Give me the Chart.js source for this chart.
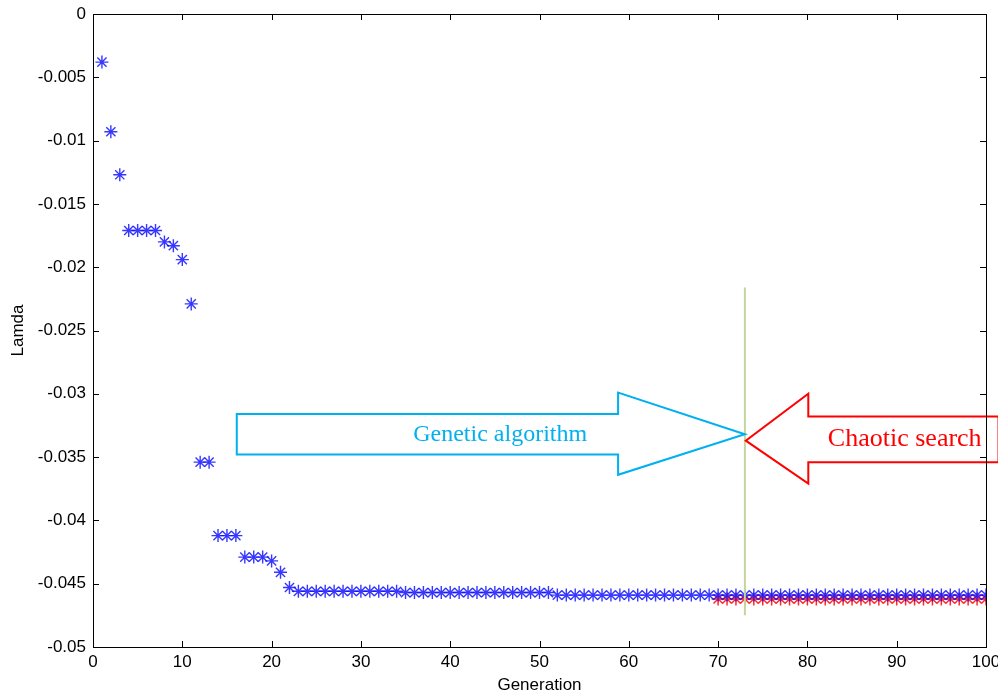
<!DOCTYPE html>
<html>
<head>
<meta charset="utf-8">
<script src="https://cdn.jsdelivr.net/npm/chart.js@4"></script>
<style>
  html, body { margin: 0; padding: 0; background: #fff; }
  #wrap { width: 998px; height: 695px; }
</style>
</head>
<body>
<div id="wrap"><canvas id="lamdaChart" width="998" height="695"></canvas></div>
<script>
// generations 1..100 (GA run), chaotic search runs on generations 70..100
const gaGenerations = [
  1, 2, 3, 4, 5, 6, 7, 8, 9, 10, 11, 12, 13, 14, 15, 16, 17, 18, 19, 20,
  21, 22, 23, 24, 25, 26, 27, 28, 29, 30, 31, 32, 33, 34, 35, 36, 37, 38, 39, 40,
  41, 42, 43, 44, 45, 46, 47, 48, 49, 50, 51, 52, 53, 54, 55, 56, 57, 58, 59, 60,
  61, 62, 63, 64, 65, 66, 67, 68, 69, 70, 71, 72, 73, 74, 75, 76, 77, 78, 79, 80,
  81, 82, 83, 84, 85, 86, 87, 88, 89, 90, 91, 92, 93, 94, 95, 96, 97, 98, 99, 100
];
const gaLamda = [
  -0.0038, -0.0093, -0.0127, -0.0171, -0.0171, -0.0171, -0.0171, -0.0180, -0.0183, -0.0194,
  -0.0229, -0.0354, -0.0354, -0.0412, -0.0412, -0.0412, -0.0429, -0.0429, -0.0429, -0.0432,
  -0.0441, -0.0453, -0.0456, -0.0456, -0.0456, -0.0456, -0.0456, -0.0456, -0.0456, -0.0456,
  -0.0456, -0.0456, -0.0456, -0.0456, -0.0457, -0.0457, -0.0457, -0.0457, -0.0457, -0.0457,
  -0.0457, -0.0457, -0.0457, -0.0457, -0.0457, -0.0457, -0.0457, -0.0457, -0.0457, -0.0457,
  -0.0457, -0.0459, -0.0459, -0.0459, -0.0459, -0.0459, -0.0459, -0.0459, -0.0459, -0.0459,
  -0.0459, -0.0459, -0.0459, -0.0459, -0.0459, -0.0459, -0.0459, -0.0459, -0.0459, -0.0459,
  -0.0459, -0.0459, -0.0459, -0.0459, -0.0459, -0.0459, -0.0459, -0.0459, -0.0459, -0.0459,
  -0.0459, -0.0459, -0.0459, -0.0459, -0.0459, -0.0459, -0.0459, -0.0459, -0.0459, -0.0459,
  -0.0459, -0.0459, -0.0459, -0.0459, -0.0459, -0.0459, -0.0459, -0.0459, -0.0459, -0.0459
];
const csGenerations = [
  70, 71, 72, 73, 74, 75, 76, 77, 78, 79, 80, 81, 82, 83, 84, 85,
  86, 87, 88, 89, 90, 91, 92, 93, 94, 95, 96, 97, 98, 99, 100
];
const csLamda = [
  -0.0462, -0.0462, -0.0462, -0.0462, -0.0462, -0.0462, -0.0462, -0.0462,
  -0.0462, -0.0462, -0.0462, -0.0462, -0.0462, -0.0462, -0.0462, -0.0462,
  -0.0462, -0.0462, -0.0462, -0.0462, -0.0462, -0.0462, -0.0462, -0.0462,
  -0.0462, -0.0462, -0.0462, -0.0462, -0.0462, -0.0462, -0.0462
];
const xTicks = [0, 10, 20, 30, 40, 50, 60, 70, 80, 90, 100];

// 주석(화살표) 위치 - 데이터 좌표로
const switchGen = 73;
const gaArrow = { x0: 16.1, xHead: 58.8, xTip: 73, yTop: -0.0316, yBot: -0.0348, headTop: -0.0299, headBot: -0.0364, yTip: -0.0332 };
const csArrow = { xTip: 73.1, xHead: 80.1, xEnd: 101.4, yTop: -0.0318, yBot: -0.0354, headTop: -0.0300, headBot: -0.0371, yTip: -0.0337 };

const axisFont = { family: 'Liberation Sans, Arial', size: 17 };

function toPoints(xs, ys) {
  return xs.map((x, i) => ({ x: x, y: ys[i] }));
}

// 축 안쪽 눈금 + 박스
const boxTicks = {
  id: 'boxTicks',
  afterDraw(chart) {
    const ctx = chart.ctx;
    const a = chart.chartArea;
    const xs = chart.scales.x, ys = chart.scales.y;
    ctx.save();
    ctx.strokeStyle = '#000';
    ctx.lineWidth = 1;
    ctx.beginPath();
    xs.ticks.forEach(t => {
      const px = Math.round(xs.getPixelForValue(t.value)) + 0.5;
      ctx.moveTo(px, a.bottom); ctx.lineTo(px, a.bottom - 6);
      ctx.moveTo(px, a.top); ctx.lineTo(px, a.top + 6);
    });
    ys.ticks.forEach(t => {
      const py = Math.round(ys.getPixelForValue(t.value)) + 0.5;
      ctx.moveTo(a.left, py); ctx.lineTo(a.left + 6, py);
      ctx.moveTo(a.right, py); ctx.lineTo(a.right - 6, py);
    });
    ctx.stroke();
    ctx.strokeRect(Math.round(a.left) + 0.5, Math.round(a.top) + 0.5, Math.round(a.right - a.left), Math.round(a.bottom - a.top));
    ctx.restore();
  }
};

const arrows = {
  id: 'arrows',
  afterDatasetsDraw(chart) {
    const ctx = chart.ctx;
    const X = v => chart.scales.x.getPixelForValue(v);
    const Y = v => chart.scales.y.getPixelForValue(v);
    ctx.save();

    // green divider
    ctx.strokeStyle = '#c3d69b';
    ctx.lineWidth = 2;
    ctx.beginPath();
    ctx.moveTo(X(switchGen), Y(-0.0216));
    ctx.lineTo(X(switchGen), Y(-0.0475));
    ctx.stroke();

    // GA arrow (right)
    const g = gaArrow;
    ctx.strokeStyle = '#00b0f0';
    ctx.lineWidth = 2;
    ctx.beginPath();
    ctx.moveTo(X(g.x0), Y(g.yTop));
    ctx.lineTo(X(g.xHead), Y(g.yTop));
    ctx.lineTo(X(g.xHead), Y(g.headTop));
    ctx.lineTo(X(g.xTip), Y(g.yTip));
    ctx.lineTo(X(g.xHead), Y(g.headBot));
    ctx.lineTo(X(g.xHead), Y(g.yBot));
    ctx.lineTo(X(g.x0), Y(g.yBot));
    ctx.closePath();
    ctx.stroke();
    ctx.fillStyle = '#00b0f0';
    ctx.font = '24px "Liberation Serif", "Times New Roman", serif';
    ctx.textAlign = 'center';
    ctx.textBaseline = 'middle';
    ctx.fillText('Genetic algorithm', X(45.6), Y((g.yTop + g.yBot) / 2));

    // chaotic search arrow (left)
    const c = csArrow;
    ctx.strokeStyle = '#ff0000';
    ctx.fillStyle = '#fff';
    ctx.beginPath();
    ctx.moveTo(X(c.xEnd), Y(c.yTop));
    ctx.lineTo(X(c.xHead), Y(c.yTop));
    ctx.lineTo(X(c.xHead), Y(c.headTop));
    ctx.lineTo(X(c.xTip), Y(c.yTip));
    ctx.lineTo(X(c.xHead), Y(c.headBot));
    ctx.lineTo(X(c.xHead), Y(c.yBot));
    ctx.lineTo(X(c.xEnd), Y(c.yBot));
    ctx.closePath();
    ctx.fill();
    ctx.stroke();
    ctx.fillStyle = '#ff0000';
    ctx.font = '26px "Liberation Serif", "Times New Roman", serif';
    ctx.fillText('Chaotic search', X(90.9), Y((c.yTop + c.yBot) / 2));
    ctx.restore();
  }
};

const ctx = document.getElementById('lamdaChart');
new Chart(ctx, {
  type: 'scatter',
  data: {
    datasets: [
      {
        label: 'GA',
        data: toPoints(gaGenerations, gaLamda),
        showLine: false,
        pointStyle: 'star',
        pointRadius: 6.5,
        pointBorderWidth: 1.4,
        borderColor: 'rgba(20, 20, 255, 0.85)',
        backgroundColor: 'rgba(20, 20, 255, 0.85)'
      },
      {
        label: 'Chaos',
        data: toPoints(csGenerations, csLamda),
        showLine: false,
        pointStyle: 'star',
        pointRadius: 6.5,
        pointBorderWidth: 1.5,
        borderColor: 'rgba(255, 20, 20, 0.9)',
        backgroundColor: 'rgba(255, 20, 20, 0.9)'
      }
    ]
  },
  options: {
    responsive: false,
    animation: false,
    layout: { padding: { top: 14, right: 12, left: 0, bottom: 0 } },
    plugins: {
      legend: { display: false },
      tooltip: { enabled: false }
    },
    scales: {
      x: {
        type: 'linear',
        min: 0,
        max: 100,
        afterBuildTicks: scale => { scale.ticks = xTicks.map(v => ({ value: v })); },
        afterFit: scale => { scale.height = 48; scale.paddingRight = 0; scale.paddingLeft = 0; },
        grid: { display: false, drawTicks: false },
        border: { display: false },
        ticks: { color: '#000', font: axisFont, padding: 5, maxRotation: 0 },
        title: { display: true, text: 'Generation', color: '#000', font: { family: axisFont.family, size: 17, lineHeight: 1.1 }, padding: { top: 0, bottom: 0 } }
      },
      y: {
        min: -0.05,
        max: 0,
        afterFit: scale => { scale.width = 93; scale.paddingTop = 0; scale.paddingBottom = 0; },
        grid: { display: false, drawTicks: false },
        border: { display: false },
        ticks: {
          stepSize: 0.005,
          color: '#000',
          padding: 7,
          font: axisFont,
          callback: v => String(Number(v.toFixed(3)))
        },
        title: { display: true, text: 'Lamda', color: '#000', font: axisFont, padding: { top: 8, bottom: 0 } }
      }
    }
  },
  plugins: [boxTicks, arrows]
});
</script>
</body>
</html>
